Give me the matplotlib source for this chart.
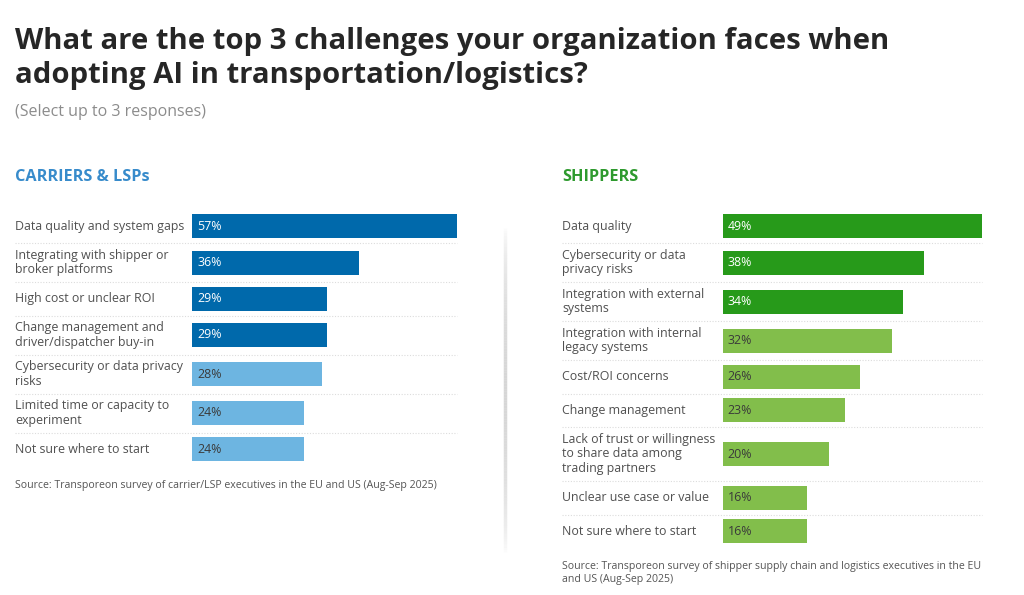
import matplotlib
matplotlib.use('Agg')
import matplotlib.pyplot as plt
from matplotlib import font_manager as fm
from matplotlib.transforms import blended_transform_factory
from matplotlib.collections import LineCollection
import numpy as np

# ---------------- data ----------------
title_lines = ["What are the top 3 challenges your organization faces when",
               "adopting AI in transportation/logistics?"]
subtitle = "(Select up to 3 responses)"

carrier_title = "CARRIERS & LSPs"
carrier_labels = ["Data quality and system gaps",
                  "Integrating with shipper or\nbroker platforms",
                  "High cost or unclear ROI",
                  "Change management and\ndriver/dispatcher buy-in",
                  "Cybersecurity or data privacy\nrisks",
                  "Limited time or capacity to\nexperiment",
                  "Not sure where to start"]
carrier_values = [57, 36, 29, 29, 28, 24, 24]
carrier_highlight = 4
carrier_source = "Source: Transporeon survey of carrier/LSP executives in the EU and US (Aug-Sep 2025)"

shipper_title = "SHIPPERS"
shipper_labels = ["Data quality",
                  "Cybersecurity or data\nprivacy risks",
                  "Integration with external\nsystems",
                  "Integration with internal\nlegacy systems",
                  "Cost/ROI concerns",
                  "Change management",
                  "Lack of trust or willingness\nto share data among\ntrading partners",
                  "Unclear use case or value",
                  "Not sure where to start"]
shipper_values = [49, 38, 34, 32, 26, 23, 20, 16, 16]
shipper_highlight = 3
shipper_source = ("Source: Transporeon survey of shipper supply chain and logistics executives in the EU\n"
                  "and US (Aug-Sep 2025)")

# ---------------- styles ----------------
W, H = 1024, 595
BLUE_DARK, BLUE_LIGHT = '#0069ab', '#6db5e1'
GREEN_DARK, GREEN_LIGHT = '#279a1a', '#82be4b'
BLUE_HEAD, GREEN_HEAD = '#378bcb', '#2e9a2e'
LABEL_C = '#505050'
TITLE_C = '#262626'

names = {f.name for f in fm.fontManager.ttflist}
def pick(cands, default):
    for c in cands:
        if c in names:
            return c
    return default
BODY = pick(['Open Sans', 'Noto Sans', 'DejaVu Sans'], 'DejaVu Sans')

fig = plt.figure(figsize=(W / 100, H / 100), dpi=100)
fig.patch.set_facecolor('white')

def fx(x):
    return x / W
def fy(y):
    return 1 - y / H

px = 0.72  # points per pixel at 100 dpi

# title
t1 = fig.text(fx(15), fy(48.5), title_lines[0], fontsize=21, fontweight='bold',
              family=BODY, color=TITLE_C, va='baseline', ha='left')
t2 = fig.text(fx(15), fy(83.5), title_lines[1], fontsize=21, fontweight='bold',
              family=BODY, color=TITLE_C, va='baseline', ha='left')
st = fig.text(fx(15), fy(116.5), subtitle, fontsize=12, family=BODY,
              fontweight='normal', color='#8c8c8c', va='baseline', ha='left')

fig.canvas.draw()
r = fig.canvas.get_renderer()
w1 = t1.get_window_extent(r).width
s = min(21 * 872 / w1, 23)
t1.set_fontsize(s)
t2.set_fontsize(s)
ws = st.get_window_extent(r).width
st.set_fontsize(min(12 * 190 / ws, 13))

FS = 12.4 * px


def panel(left_px, label_x, bar_w_px, labels, values, highlight, dark, light,
          head, head_color, source, source_y):
    ax = fig.add_axes([fx(left_px), 0, bar_w_px / W, 1])
    ax.set_xlim(0, max(values))
    ax.set_ylim(H, 0)
    ax.axis('off')
    nlines = np.array([lab.count('\n') + 1 for lab in labels])
    heights = np.maximum(33.5, 15 * nlines + 9)
    tops = 209.5 + np.concatenate([[0], np.cumsum(heights)[:-1]])
    centers = tops + heights / 2
    colors = [dark if i < highlight else light for i in range(len(values))]
    ax.barh(centers, values, height=24, color=colors, left=0)
    tr = blended_transform_factory(fig.transFigure, ax.transData)
    right = fx(left_px + bar_w_px)
    for i, (lab, v, c) in enumerate(zip(labels, values, centers)):
        ax.text(fx(label_x), c, lab, transform=tr, ha='left', va='center',
                fontsize=FS, family=BODY, color=LABEL_C, linespacing=1.18)
        ax.annotate(f"{v}%", xy=(0, c), xytext=(5, 0), textcoords='offset pixels',
                    ha='left', va='center', fontsize=FS, family=BODY,
                    color='white' if i < highlight else '#3a3a3a')
        if i > 0:
            ax.plot([fx(label_x), right], [tops[i], tops[i]], transform=tr,
                    color='#dcdcdc', lw=0.8, ls=(0, (1, 1.5)), clip_on=False)
    fig.text(fx(label_x), fy(181), head, fontsize=16.3 * px, fontweight='bold',
             family=BODY, color=head_color, va='baseline', ha='left')
    fig.text(fx(label_x), fy(source_y), source, fontsize=10.55 * px, family=BODY,
             color='#555555', va='top', ha='left', linespacing=1.2)
    return ax

panel(192, 15, 265, carrier_labels, carrier_values, carrier_highlight,
      BLUE_DARK, BLUE_LIGHT, carrier_title, BLUE_HEAD, carrier_source, 480)
panel(722.7, 562, 259.6, shipper_labels, shipper_values, shipper_highlight,
      GREEN_DARK, GREEN_LIGHT, shipper_title, GREEN_HEAD, shipper_source, 561)

# soft card shadow between panels
ys = np.linspace(228, 552, 120)
segs = [[(fx(505), fy(a)), (fx(505), fy(b))] for a, b in zip(ys[:-1], ys[1:])]
mid = (ys[:-1] + ys[1:]) / 2
alpha = np.clip(np.sin(np.pi * (mid - 228) / 324), 0, 1) ** 0.6 * 0.35
cols = [(0.55, 0.55, 0.55, a) for a in alpha]
fig.add_artist(LineCollection(segs, colors=cols, linewidths=2.5,
                              transform=fig.transFigure))

fig.savefig('out.png', dpi=100, facecolor='white')
